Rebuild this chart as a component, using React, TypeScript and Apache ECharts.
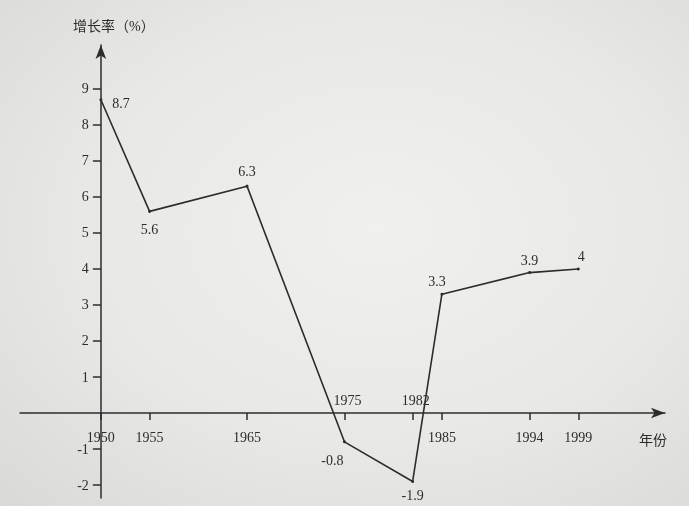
import React, { useEffect, useRef } from "react";
import * as echarts from "echarts";

// ---- Data ----
const years = [1950, 1955, 1965, 1975, 1982, 1985, 1994, 1999];
const growthRates = [8.7, 5.6, 6.3, -0.8, -1.9, 3.3, 3.9, 4];
const yTickValues = [-2, -1, 1, 2, 3, 4, 5, 6, 7, 8, 9];
const xLabelsBelow = [1950, 1955, 1965, 1985, 1994, 1999];
const xLabelsAbove = [1975, 1982];
const yAxisTitle = "增长率（%）";
const xAxisTitle = "年份";

const INK = "#2c2c2c";
const FONT = "'Liberation Serif', 'Noto Sans CJK SC', serif";

export default function App() {
  const ref = useRef<HTMLDivElement>(null);

  useEffect(() => {
    if (!ref.current) return;
    const chart = echarts.init(ref.current, undefined, { renderer: "svg" });

    const placements: any[] = [
      { position: "right", distance: 10, offset: [0, 4] },
      { position: "bottom", distance: 10 },
      { position: "top", distance: 6 },
      { position: "bottom", distance: 10, offset: [-12, 0] },
      { position: "bottom", distance: 6 },
      { position: "top", distance: 6, offset: [-5, 2] },
      { position: "top", distance: 4 },
      { position: "top", distance: 4, offset: [3, 0] },
    ];

    const xMin = 1941.7;
    const xMax = 2007.9;
    const gridLeft = 20;
    const gridWidth = 645;
    const gridTop = 45;
    const gridBottom = 8;
    const yMin = -2.36;
    const yMax = 10.22;
    const yAxisShift = ((1950 - xMin) / (xMax - xMin)) * gridWidth;
    const plotHeight = 506 - gridTop - gridBottom;
    // distance from the zero line down to the grid's bottom edge
    const zeroToBottom = ((0 - yMin) / (yMax - yMin)) * plotHeight;

    chart.setOption({
      animation: false,
      backgroundColor: "transparent",
      grid: {
        left: gridLeft,
        width: gridWidth,
        top: gridTop,
        bottom: gridBottom,
        containLabel: false,
        outerBoundsMode: "none",
      },
      xAxis: {
        type: "value",
        min: xMin,
        max: xMax,
        name: xAxisTitle,
        nameLocation: "end",
        nameGap: -26,
        nameTextStyle: {
          fontFamily: FONT,
          fontSize: 14,
          color: INK,
          verticalAlign: "top",
          padding: [20, 0, 0, 0],
        },
        axisLine: {
          onZero: true,
          symbol: ["none", "arrow"],
          symbolSize: [8, 14],
          lineStyle: { color: INK, width: 1.5 },
        },
        axisTick: {
          show: true,
          customValues: years,
          length: 7,
          lineStyle: { color: INK, width: 1.5 },
        },
        axisLabel: {
          customValues: xLabelsBelow,
          margin: 17 - zeroToBottom,
          fontFamily: FONT,
          fontSize: 14,
          color: INK,
          formatter: (v: number) => String(v),
        },
        splitLine: { show: false },
      },
      yAxis: {
        type: "value",
        min: yMin,
        max: yMax,
        offset: -yAxisShift,
        name: yAxisTitle,
        nameLocation: "end",
        nameGap: 12,
        nameTextStyle: {
          fontFamily: FONT,
          fontSize: 14,
          color: INK,
          align: "center",
          padding: [0, 0, 0, 26],
        },
        axisLine: {
          show: true,
          onZero: false,
          symbol: ["none", "arrow"],
          symbolSize: [8, 14],
          lineStyle: { color: INK, width: 1.5 },
        },
        axisTick: {
          show: true,
          customValues: yTickValues,
          length: 8,
          lineStyle: { color: INK, width: 1.5 },
        },
        axisLabel: {
          customValues: yTickValues,
          margin: 12,
          fontFamily: FONT,
          fontSize: 14,
          color: INK,
        },
        splitLine: { show: false },
      },
      series: [
        {
          type: "line",
          data: years.map((y, i) => ({
            value: [y, growthRates[i]],
            label: placements[i],
          })),
          symbol: "circle",
          symbolSize: 3,
          showSymbol: true,
          lineStyle: { color: INK, width: 1.6 },
          itemStyle: { color: INK },
          label: {
            show: true,
            fontFamily: FONT,
            fontSize: 14,
            color: INK,
            formatter: (p: any) => String(p.value[1]),
          },
          silent: true,
          z: 3,
        },
        {
          type: "scatter",
          data: xLabelsAbove.map((y) => [y, 0]),
          symbolSize: 0,
          itemStyle: { opacity: 1, color: INK },
          label: {
            show: true,
            position: "top",
            distance: 6,
            offset: [3, 0],
            opacity: 1,
            fontFamily: FONT,
            fontSize: 14,
            color: INK,
            formatter: (p: any) => String(p.value[0]),
          },
          silent: true,
        },
      ],
    });

    return () => chart.dispose();
  }, []);

  return (
    <div
      style={{
        position: "fixed",
        left: 0,
        top: 0,
        width: 689,
        height: 506,
        background:
          "radial-gradient(ellipse at 55% 45%, #f0f0ee 0%, #e8e8e6 55%, #d9d9d7 100%)",
      }}
    >
      <div ref={ref} style={{ width: 689, height: 506 }} />
    </div>
  );
}
